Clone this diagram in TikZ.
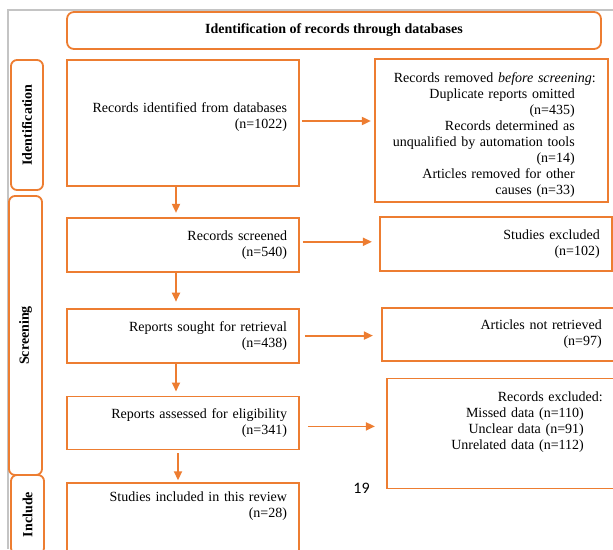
\documentclass[tikz,border=0pt]{standalone}
\usepackage{fontspec}
\setmainfont{Liberation Serif}
\newfontfamily\pagenumfont{Carlito}
\usepackage{xcolor}
\usepackage{tikz}
\usetikzlibrary{arrows.meta,positioning}

\definecolor{prismaorange}{HTML}{ED7D31}
\definecolor{pagegray}{HTML}{C4C4C4}
\newcommand{\padbelow}[1]{\rule[-#1]{0pt}{#1}}
\newcommand{\rgap}[1]{\hspace*{#1}\null}

\begin{document}
\begin{tikzpicture}[
  x=1pt, y=-1pt,
  box/.style={rectangle, draw=prismaorange, line width=1.8pt, fill=white, align=right, text width=208pt, inner xsep=12pt, font=\fontsize{14}{16}\selectfont},
  headbox/.style={rectangle, draw=prismaorange, line width=1.8pt, rounded corners=7pt, minimum width=534pt, minimum height=37pt, font=\fontsize{14}{16}\selectfont\bfseries},
  band/.style={rectangle, draw=prismaorange, line width=1.8pt, fill=white, rounded corners=6pt, rotate=90, inner sep=0pt, font=\fontsize{14}{16}\selectfont\bfseries},
  arrow/.style={-{Triangle[length=9pt,width=8pt]}, draw=prismaorange, line width=1.8pt},
  node distance=30pt
]
  \clip (0,0) rectangle (613,549);
  \useasboundingbox (0,0) rectangle (613,549);
  \draw[pagegray, line width=2pt] (8,549) -- (8,10) -- (613,10);

  \node[headbox] (head) at (334,30.5) {Identification of records through databases};

  % stage bands
  \node[band, minimum width=130pt, minimum height=32pt] (idband) at (27,125) {Identification};
  \node[band, minimum width=279pt, minimum height=33pt] (screenband) at (25.5,335.5) {Screening};
  \node[band, minimum width=79pt, minimum height=33pt] (includeband) at (27.5,514.5) {Include};

  % main column
  \node[box, minimum height=126pt] (rec) at (183,123) {Records identified from databases\\(n=1022)\padbelow{14pt}};
  \node[box, minimum height=54pt, below=30pt of rec] (screened) {Records screened\\(n=540)};
  \node[box, minimum height=54pt, below=35pt of screened] (sought) {Reports sought for retrieval\\(n=438)};
  \node[box, minimum height=53pt, below=32pt of sought] (assessed) {Reports assessed for eligibility\\(n=341)};
  \node[box, minimum height=68pt, below=32pt of assessed] (included) {Studies included in this review\\(n=28)\padbelow{26pt}};

  % side column
  \node[box, text width=209pt, minimum height=143pt, right=74pt of rec, yshift=-7.5pt] (removed) {\rule{0pt}{18pt}Records removed \textit{before screening}:\\Duplicate reports omitted\rgap{21pt}\\(n=435)\rgap{21pt}\\Records determined as\rgap{21pt}\\unqualified by automation tools\rgap{21pt}\\(n=14)\rgap{21pt}\\Articles removed for other\rgap{21pt}\\causes (n=33)\rgap{21pt}};
  \node[box, minimum height=54pt, right=79pt of screened, yshift=1pt] (excluded) {Studies excluded\\(n=102)};
  \node[box, minimum height=53pt, right=81pt of sought, yshift=1.5pt] (notretrieved) {Articles not retrieved\\(n=97)};
  \node[box, text width=192pt, inner xsep=24pt, minimum height=110pt, right=86pt of assessed, yshift=-10.5pt] (recexcluded) {Records excluded:\\Missed data (n=110)\rgap{19pt}\\Unclear data (n=91)\rgap{19pt}\\Unrelated data (n=112)\rgap{19pt}\padbelow{25pt}};

  \node[font=\pagenumfont\fontsize{16}{18}\selectfont, inner sep=0pt] (pageno) at (361.5,488) {19};

  % flow
  \draw[arrow, shorten >=4pt] ([xshift=-7pt]rec.south) -- ([xshift=-7pt]screened.north);
  \draw[arrow, shorten >=6pt] ([xshift=-7pt]screened.south) -- ([xshift=-7pt]sought.north);
  \draw[arrow, shorten >=4pt] ([xshift=-7pt]sought.south) -- ([xshift=-7pt]assessed.north);
  \draw[arrow, shorten <=3pt, shorten >=2pt] ([xshift=-5pt]assessed.south) -- ([xshift=-5pt]included.north);

  \draw[arrow, shorten <=2pt, shorten >=3pt] ([yshift=2pt]rec.east) -- ([yshift=2pt]rec.east -| removed.west);
  \draw[arrow, shorten <=3pt, shorten >=7pt] ([yshift=3pt]screened.east) -- ([yshift=3pt]screened.east -| excluded.west);
  \draw[arrow, shorten <=5pt, shorten >=8pt] (sought.east) -- (sought.east -| notretrieved.west);
  \draw[arrow, shorten <=8pt, shorten >=11pt] ([yshift=-3.5pt]assessed.east) -- ([yshift=-3.5pt]assessed.east -| recexcluded.west);
\end{tikzpicture}
\end{document}
